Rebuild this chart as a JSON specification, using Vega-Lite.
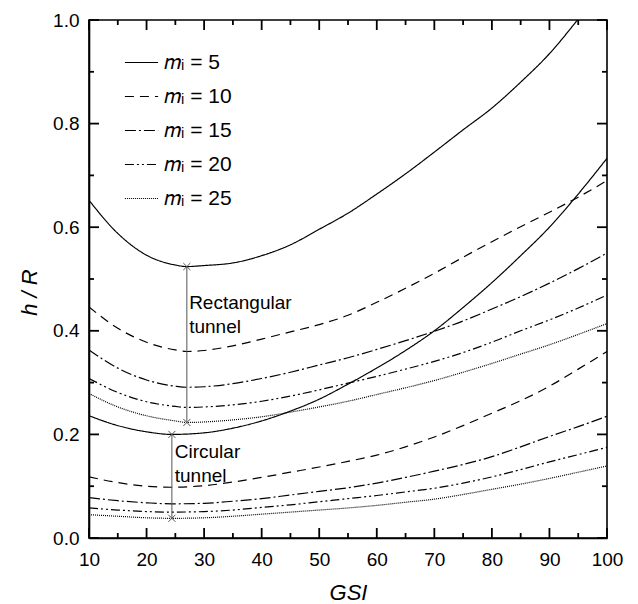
{
  "$schema": "https://vega.github.io/schema/vega-lite/v6.json",
  "width": 518,
  "height": 518,
  "autosize": {"type": "none"},
  "padding": {"left": 89, "top": 20, "right": 31, "bottom": 66},
  "background": "white",
  "config": {
    "view": {"stroke": "black", "strokeWidth": 1.6},
    "font": "Liberation Sans",
    "axis": {
      "domainColor": "black",
      "domainWidth": 1.6,
      "labelColor": "black",
      "labelFont": "Liberation Sans",
      "labelFontSize": 19,
      "titleColor": "black",
      "titleFont": "Liberation Sans",
      "titleFontSize": 22,
      "titleFontWeight": "normal",
      "titleFontStyle": "italic"
    }
  },
  "datasets": {
    "curves": [
      {"t": "R", "m": 5, "g": 10, "h": 0.652}, {"t": "R", "m": 5, "g": 15, "h": 0.588}, {"t": "R", "m": 5, "g": 20, "h": 0.546}, {"t": "R", "m": 5, "g": 25, "h": 0.527}, {"t": "R", "m": 5, "g": 27, "h": 0.524}, {"t": "R", "m": 5, "g": 30, "h": 0.526}, {"t": "R", "m": 5, "g": 35, "h": 0.531}, {"t": "R", "m": 5, "g": 40, "h": 0.545}, {"t": "R", "m": 5, "g": 45, "h": 0.566}, {"t": "R", "m": 5, "g": 50, "h": 0.596}, {"t": "R", "m": 5, "g": 55, "h": 0.627}, {"t": "R", "m": 5, "g": 60, "h": 0.664}, {"t": "R", "m": 5, "g": 65, "h": 0.703}, {"t": "R", "m": 5, "g": 70, "h": 0.745}, {"t": "R", "m": 5, "g": 75, "h": 0.788}, {"t": "R", "m": 5, "g": 80, "h": 0.830}, {"t": "R", "m": 5, "g": 85, "h": 0.880}, {"t": "R", "m": 5, "g": 90, "h": 0.935}, {"t": "R", "m": 5, "g": 95, "h": 1.002}, {"t": "R", "m": 5, "g": 100, "h": 1.075},
      {"t": "R", "m": 10, "g": 10, "h": 0.446}, {"t": "R", "m": 10, "g": 15, "h": 0.405}, {"t": "R", "m": 10, "g": 20, "h": 0.378}, {"t": "R", "m": 10, "g": 25, "h": 0.363}, {"t": "R", "m": 10, "g": 27, "h": 0.360}, {"t": "R", "m": 10, "g": 30, "h": 0.362}, {"t": "R", "m": 10, "g": 35, "h": 0.371}, {"t": "R", "m": 10, "g": 40, "h": 0.384}, {"t": "R", "m": 10, "g": 45, "h": 0.398}, {"t": "R", "m": 10, "g": 50, "h": 0.412}, {"t": "R", "m": 10, "g": 55, "h": 0.430}, {"t": "R", "m": 10, "g": 60, "h": 0.455}, {"t": "R", "m": 10, "g": 65, "h": 0.482}, {"t": "R", "m": 10, "g": 70, "h": 0.511}, {"t": "R", "m": 10, "g": 75, "h": 0.542}, {"t": "R", "m": 10, "g": 80, "h": 0.572}, {"t": "R", "m": 10, "g": 85, "h": 0.601}, {"t": "R", "m": 10, "g": 90, "h": 0.629}, {"t": "R", "m": 10, "g": 95, "h": 0.658}, {"t": "R", "m": 10, "g": 100, "h": 0.690},
      {"t": "R", "m": 15, "g": 10, "h": 0.363}, {"t": "R", "m": 15, "g": 15, "h": 0.328}, {"t": "R", "m": 15, "g": 20, "h": 0.305}, {"t": "R", "m": 15, "g": 25, "h": 0.293}, {"t": "R", "m": 15, "g": 27, "h": 0.291}, {"t": "R", "m": 15, "g": 30, "h": 0.292}, {"t": "R", "m": 15, "g": 35, "h": 0.298}, {"t": "R", "m": 15, "g": 40, "h": 0.308}, {"t": "R", "m": 15, "g": 45, "h": 0.320}, {"t": "R", "m": 15, "g": 50, "h": 0.334}, {"t": "R", "m": 15, "g": 55, "h": 0.348}, {"t": "R", "m": 15, "g": 60, "h": 0.364}, {"t": "R", "m": 15, "g": 65, "h": 0.381}, {"t": "R", "m": 15, "g": 70, "h": 0.399}, {"t": "R", "m": 15, "g": 75, "h": 0.419}, {"t": "R", "m": 15, "g": 80, "h": 0.442}, {"t": "R", "m": 15, "g": 85, "h": 0.466}, {"t": "R", "m": 15, "g": 90, "h": 0.492}, {"t": "R", "m": 15, "g": 95, "h": 0.520}, {"t": "R", "m": 15, "g": 100, "h": 0.550},
      {"t": "R", "m": 20, "g": 10, "h": 0.308}, {"t": "R", "m": 20, "g": 15, "h": 0.281}, {"t": "R", "m": 20, "g": 20, "h": 0.263}, {"t": "R", "m": 20, "g": 25, "h": 0.254}, {"t": "R", "m": 20, "g": 27, "h": 0.252}, {"t": "R", "m": 20, "g": 30, "h": 0.253}, {"t": "R", "m": 20, "g": 35, "h": 0.257}, {"t": "R", "m": 20, "g": 40, "h": 0.264}, {"t": "R", "m": 20, "g": 45, "h": 0.274}, {"t": "R", "m": 20, "g": 50, "h": 0.286}, {"t": "R", "m": 20, "g": 55, "h": 0.299}, {"t": "R", "m": 20, "g": 60, "h": 0.312}, {"t": "R", "m": 20, "g": 65, "h": 0.326}, {"t": "R", "m": 20, "g": 70, "h": 0.341}, {"t": "R", "m": 20, "g": 75, "h": 0.358}, {"t": "R", "m": 20, "g": 80, "h": 0.378}, {"t": "R", "m": 20, "g": 85, "h": 0.400}, {"t": "R", "m": 20, "g": 90, "h": 0.421}, {"t": "R", "m": 20, "g": 95, "h": 0.444}, {"t": "R", "m": 20, "g": 100, "h": 0.469},
      {"t": "R", "m": 25, "g": 10, "h": 0.279}, {"t": "R", "m": 25, "g": 15, "h": 0.253}, {"t": "R", "m": 25, "g": 20, "h": 0.236}, {"t": "R", "m": 25, "g": 25, "h": 0.226}, {"t": "R", "m": 25, "g": 27, "h": 0.223}, {"t": "R", "m": 25, "g": 30, "h": 0.224}, {"t": "R", "m": 25, "g": 35, "h": 0.228}, {"t": "R", "m": 25, "g": 40, "h": 0.234}, {"t": "R", "m": 25, "g": 45, "h": 0.243}, {"t": "R", "m": 25, "g": 50, "h": 0.253}, {"t": "R", "m": 25, "g": 55, "h": 0.264}, {"t": "R", "m": 25, "g": 60, "h": 0.277}, {"t": "R", "m": 25, "g": 65, "h": 0.290}, {"t": "R", "m": 25, "g": 70, "h": 0.304}, {"t": "R", "m": 25, "g": 75, "h": 0.320}, {"t": "R", "m": 25, "g": 80, "h": 0.337}, {"t": "R", "m": 25, "g": 85, "h": 0.355}, {"t": "R", "m": 25, "g": 90, "h": 0.373}, {"t": "R", "m": 25, "g": 95, "h": 0.393}, {"t": "R", "m": 25, "g": 100, "h": 0.414},
      {"t": "C", "m": 5, "g": 10, "h": 0.236}, {"t": "C", "m": 5, "g": 15, "h": 0.217}, {"t": "C", "m": 5, "g": 20, "h": 0.205}, {"t": "C", "m": 5, "g": 24.4, "h": 0.200}, {"t": "C", "m": 5, "g": 30, "h": 0.203}, {"t": "C", "m": 5, "g": 35, "h": 0.212}, {"t": "C", "m": 5, "g": 40, "h": 0.226}, {"t": "C", "m": 5, "g": 45, "h": 0.245}, {"t": "C", "m": 5, "g": 50, "h": 0.268}, {"t": "C", "m": 5, "g": 55, "h": 0.297}, {"t": "C", "m": 5, "g": 60, "h": 0.328}, {"t": "C", "m": 5, "g": 65, "h": 0.362}, {"t": "C", "m": 5, "g": 70, "h": 0.400}, {"t": "C", "m": 5, "g": 75, "h": 0.445}, {"t": "C", "m": 5, "g": 80, "h": 0.493}, {"t": "C", "m": 5, "g": 85, "h": 0.545}, {"t": "C", "m": 5, "g": 90, "h": 0.600}, {"t": "C", "m": 5, "g": 95, "h": 0.664}, {"t": "C", "m": 5, "g": 100, "h": 0.733},
      {"t": "C", "m": 10, "g": 10, "h": 0.118}, {"t": "C", "m": 10, "g": 15, "h": 0.107}, {"t": "C", "m": 10, "g": 20, "h": 0.100}, {"t": "C", "m": 10, "g": 24.4, "h": 0.098}, {"t": "C", "m": 10, "g": 30, "h": 0.101}, {"t": "C", "m": 10, "g": 35, "h": 0.108}, {"t": "C", "m": 10, "g": 40, "h": 0.117}, {"t": "C", "m": 10, "g": 45, "h": 0.127}, {"t": "C", "m": 10, "g": 50, "h": 0.137}, {"t": "C", "m": 10, "g": 55, "h": 0.148}, {"t": "C", "m": 10, "g": 60, "h": 0.160}, {"t": "C", "m": 10, "g": 65, "h": 0.176}, {"t": "C", "m": 10, "g": 70, "h": 0.195}, {"t": "C", "m": 10, "g": 75, "h": 0.217}, {"t": "C", "m": 10, "g": 80, "h": 0.241}, {"t": "C", "m": 10, "g": 85, "h": 0.265}, {"t": "C", "m": 10, "g": 90, "h": 0.293}, {"t": "C", "m": 10, "g": 95, "h": 0.326}, {"t": "C", "m": 10, "g": 100, "h": 0.360},
      {"t": "C", "m": 15, "g": 10, "h": 0.078}, {"t": "C", "m": 15, "g": 15, "h": 0.072}, {"t": "C", "m": 15, "g": 20, "h": 0.068}, {"t": "C", "m": 15, "g": 24.4, "h": 0.066}, {"t": "C", "m": 15, "g": 30, "h": 0.067}, {"t": "C", "m": 15, "g": 35, "h": 0.071}, {"t": "C", "m": 15, "g": 40, "h": 0.076}, {"t": "C", "m": 15, "g": 45, "h": 0.083}, {"t": "C", "m": 15, "g": 50, "h": 0.090}, {"t": "C", "m": 15, "g": 55, "h": 0.097}, {"t": "C", "m": 15, "g": 60, "h": 0.106}, {"t": "C", "m": 15, "g": 65, "h": 0.117}, {"t": "C", "m": 15, "g": 70, "h": 0.129}, {"t": "C", "m": 15, "g": 75, "h": 0.142}, {"t": "C", "m": 15, "g": 80, "h": 0.157}, {"t": "C", "m": 15, "g": 85, "h": 0.176}, {"t": "C", "m": 15, "g": 90, "h": 0.196}, {"t": "C", "m": 15, "g": 95, "h": 0.215}, {"t": "C", "m": 15, "g": 100, "h": 0.235},
      {"t": "C", "m": 20, "g": 10, "h": 0.058}, {"t": "C", "m": 20, "g": 15, "h": 0.054}, {"t": "C", "m": 20, "g": 20, "h": 0.051}, {"t": "C", "m": 20, "g": 24.4, "h": 0.050}, {"t": "C", "m": 20, "g": 30, "h": 0.051}, {"t": "C", "m": 20, "g": 35, "h": 0.054}, {"t": "C", "m": 20, "g": 40, "h": 0.059}, {"t": "C", "m": 20, "g": 45, "h": 0.064}, {"t": "C", "m": 20, "g": 50, "h": 0.070}, {"t": "C", "m": 20, "g": 55, "h": 0.076}, {"t": "C", "m": 20, "g": 60, "h": 0.082}, {"t": "C", "m": 20, "g": 65, "h": 0.089}, {"t": "C", "m": 20, "g": 70, "h": 0.096}, {"t": "C", "m": 20, "g": 75, "h": 0.106}, {"t": "C", "m": 20, "g": 80, "h": 0.118}, {"t": "C", "m": 20, "g": 85, "h": 0.132}, {"t": "C", "m": 20, "g": 90, "h": 0.147}, {"t": "C", "m": 20, "g": 95, "h": 0.161}, {"t": "C", "m": 20, "g": 100, "h": 0.175},
      {"t": "C", "m": 25, "g": 10, "h": 0.045}, {"t": "C", "m": 25, "g": 15, "h": 0.042}, {"t": "C", "m": 25, "g": 20, "h": 0.039}, {"t": "C", "m": 25, "g": 24.4, "h": 0.038}, {"t": "C", "m": 25, "g": 30, "h": 0.039}, {"t": "C", "m": 25, "g": 35, "h": 0.042}, {"t": "C", "m": 25, "g": 40, "h": 0.046}, {"t": "C", "m": 25, "g": 45, "h": 0.050}, {"t": "C", "m": 25, "g": 50, "h": 0.054}, {"t": "C", "m": 25, "g": 55, "h": 0.058}, {"t": "C", "m": 25, "g": 60, "h": 0.063}, {"t": "C", "m": 25, "g": 65, "h": 0.069}, {"t": "C", "m": 25, "g": 70, "h": 0.075}, {"t": "C", "m": 25, "g": 75, "h": 0.084}, {"t": "C", "m": 25, "g": 80, "h": 0.094}, {"t": "C", "m": 25, "g": 85, "h": 0.104}, {"t": "C", "m": 25, "g": 90, "h": 0.115}, {"t": "C", "m": 25, "g": 95, "h": 0.127}, {"t": "C", "m": 25, "g": 100, "h": 0.139}
    ],
    "spans": [
      {"t": "R", "g": 27, "lo": 0.223, "hi": 0.524},
      {"t": "C", "g": 24.4, "lo": 0.038, "hi": 0.200}
    ],
    "ends": [
      {"t": "R", "g": 27, "h": 0.524},
      {"t": "R", "g": 27, "h": 0.223},
      {"t": "C", "g": 24.4, "h": 0.200},
      {"t": "C", "g": 24.4, "h": 0.038}
    ],
    "notes": [
      {"t": "R", "g": 27.4, "h": 0.4415, "label": ["Rectangular", "\u00a0tunnel"]},
      {"t": "C", "g": 24.9, "h": 0.154, "label": ["Circular", "tunnel"]}
    ],
    "xt": [
      {"v": 10, "k": "major"}, {"v": 15, "k": "minor"}, {"v": 20, "k": "major"}, {"v": 25, "k": "minor"}, {"v": 30, "k": "major"}, {"v": 35, "k": "minor"}, {"v": 40, "k": "major"}, {"v": 45, "k": "minor"}, {"v": 50, "k": "major"}, {"v": 55, "k": "minor"},
      {"v": 60, "k": "major"}, {"v": 65, "k": "minor"}, {"v": 70, "k": "major"}, {"v": 75, "k": "minor"}, {"v": 80, "k": "major"}, {"v": 85, "k": "minor"}, {"v": 90, "k": "major"}, {"v": 95, "k": "minor"}, {"v": 100, "k": "major"}
    ],
    "yt": [
      {"v": 0, "k": "major"}, {"v": 0.1, "k": "minor"}, {"v": 0.2, "k": "major"}, {"v": 0.3, "k": "minor"}, {"v": 0.4, "k": "major"}, {"v": 0.5, "k": "minor"}, {"v": 0.6, "k": "major"}, {"v": 0.7, "k": "minor"}, {"v": 0.8, "k": "major"}, {"v": 0.9, "k": "minor"}, {"v": 1.0, "k": "major"}
    ]
  },
  "layer": [
    {
      "data": {"name": "curves"},
      "mark": {"type": "line", "interpolate": "monotone", "clip": true, "strokeWidth": 1.2, "color": "black"},
      "encoding": {
        "x": {
          "field": "g", "type": "quantitative",
          "scale": {"domain": [10, 100], "nice": false, "zero": false},
          "axis": {
            "orient": "bottom",
            "values": [10, 20, 30, 40, 50, 60, 70, 80, 90, 100],
            "grid": false,
            "ticks": false,
            "labelPadding": 12,
            "labelFlush": false,
            "title": "GSI",
            "titleBaseline": "alphabetic",
            "titleY": 61
          }
        },
        "y": {
          "field": "h", "type": "quantitative",
          "scale": {"domain": [0, 1], "nice": false},
          "axis": {
            "orient": "left",
            "values": [0, 0.2, 0.4, 0.6, 0.8, 1.0],
            "format": ".1f",
            "grid": false,
            "ticks": false,
            "labelPadding": 10,
            "labelFlush": false,
            "title": "h / R",
            "titleBaseline": "alphabetic",
            "titleAngle": -90,
            "titleX": -53,
            "titleY": 272
          }
        },
        "strokeDash": {
          "field": "m", "type": "ordinal",
          "scale": {"domain": [5, 10, 15, 20, 25], "range": [[1, 0], [9, 6], [11, 3, 2, 3], [9, 3, 2, 3, 2, 3], [1, 1]]},
          "legend": {
            "orient": "none",
            "legendX": 35,
            "legendY": 25,
            "title": null,
            "padding": 0,
            "symbolType": "stroke",
            "symbolSize": 1100,
            "symbolStrokeWidth": 1.2,
            "symbolStrokeColor": "black",
            "labelFont": "Liberation Sans",
            "labelFontSize": 21,
            "labelColor": "black",
            "labelOffset": 5,
            "rowPadding": 6,
            "labelExpr": "'𝑚ᵢ = ' + datum.label"
          }
        },
        "detail": {"field": "t"}
      }
    },
    {
      "data": {"name": "spans"},
      "mark": {"type": "rule", "color": "#555555", "strokeWidth": 1},
      "encoding": {
        "x": {"field": "g", "type": "quantitative"},
        "y": {"field": "lo", "type": "quantitative"},
        "y2": {"field": "hi"}
      }
    },
    {
      "data": {"name": "ends"},
      "mark": {"type": "point", "shape": "M-1,-1L1,1M-1,1L1,-1", "filled": false, "color": "#555555", "size": 50, "strokeWidth": 1, "opacity": 1},
      "encoding": {
        "x": {"field": "g", "type": "quantitative"},
        "y": {"field": "h", "type": "quantitative"}
      }
    },
    {
      "data": {"name": "notes"},
      "mark": {"type": "text", "align": "left", "baseline": "alphabetic", "font": "Liberation Sans", "fontSize": 19, "lineHeight": 24, "color": "black"},
      "encoding": {
        "x": {"field": "g", "type": "quantitative"},
        "y": {"field": "h", "type": "quantitative"},
        "text": {"field": "label"}
      }
    },
    {
      "data": {"name": "xt"},
      "transform": [{"filter": "datum.k === 'major'"}],
      "mark": {"type": "rule", "color": "black", "strokeWidth": 1.8},
      "encoding": {
        "x": {"field": "v", "type": "quantitative"},
        "y": {"datum": 0},
        "y2": {"datum": 0.0193}
      }
    },
    {
      "data": {"name": "xt"},
      "transform": [{"filter": "datum.k === 'major'"}],
      "mark": {"type": "rule", "color": "black", "strokeWidth": 1.8},
      "encoding": {
        "x": {"field": "v", "type": "quantitative"},
        "y": {"datum": 1},
        "y2": {"datum": 0.9807}
      }
    },
    {
      "data": {"name": "xt"},
      "transform": [{"filter": "datum.k === 'minor'"}],
      "mark": {"type": "rule", "color": "black", "strokeWidth": 1.8},
      "encoding": {
        "x": {"field": "v", "type": "quantitative"},
        "y": {"datum": 0},
        "y2": {"datum": 0.0097}
      }
    },
    {
      "data": {"name": "xt"},
      "transform": [{"filter": "datum.k === 'minor'"}],
      "mark": {"type": "rule", "color": "black", "strokeWidth": 1.8},
      "encoding": {
        "x": {"field": "v", "type": "quantitative"},
        "y": {"datum": 1},
        "y2": {"datum": 0.9903}
      }
    },
    {
      "data": {"name": "yt"},
      "transform": [{"filter": "datum.k === 'major'"}],
      "mark": {"type": "rule", "color": "black", "strokeWidth": 1.8},
      "encoding": {
        "y": {"field": "v", "type": "quantitative"},
        "x": {"datum": 10},
        "x2": {"datum": 11.74}
      }
    },
    {
      "data": {"name": "yt"},
      "transform": [{"filter": "datum.k === 'major'"}],
      "mark": {"type": "rule", "color": "black", "strokeWidth": 1.8},
      "encoding": {
        "y": {"field": "v", "type": "quantitative"},
        "x": {"datum": 100},
        "x2": {"datum": 98.26}
      }
    },
    {
      "data": {"name": "yt"},
      "transform": [{"filter": "datum.k === 'minor'"}],
      "mark": {"type": "rule", "color": "black", "strokeWidth": 1.8},
      "encoding": {
        "y": {"field": "v", "type": "quantitative"},
        "x": {"datum": 10},
        "x2": {"datum": 10.87}
      }
    },
    {
      "data": {"name": "yt"},
      "transform": [{"filter": "datum.k === 'minor'"}],
      "mark": {"type": "rule", "color": "black", "strokeWidth": 1.8},
      "encoding": {
        "y": {"field": "v", "type": "quantitative"},
        "x": {"datum": 100},
        "x2": {"datum": 99.13}
      }
    }
  ]
}
